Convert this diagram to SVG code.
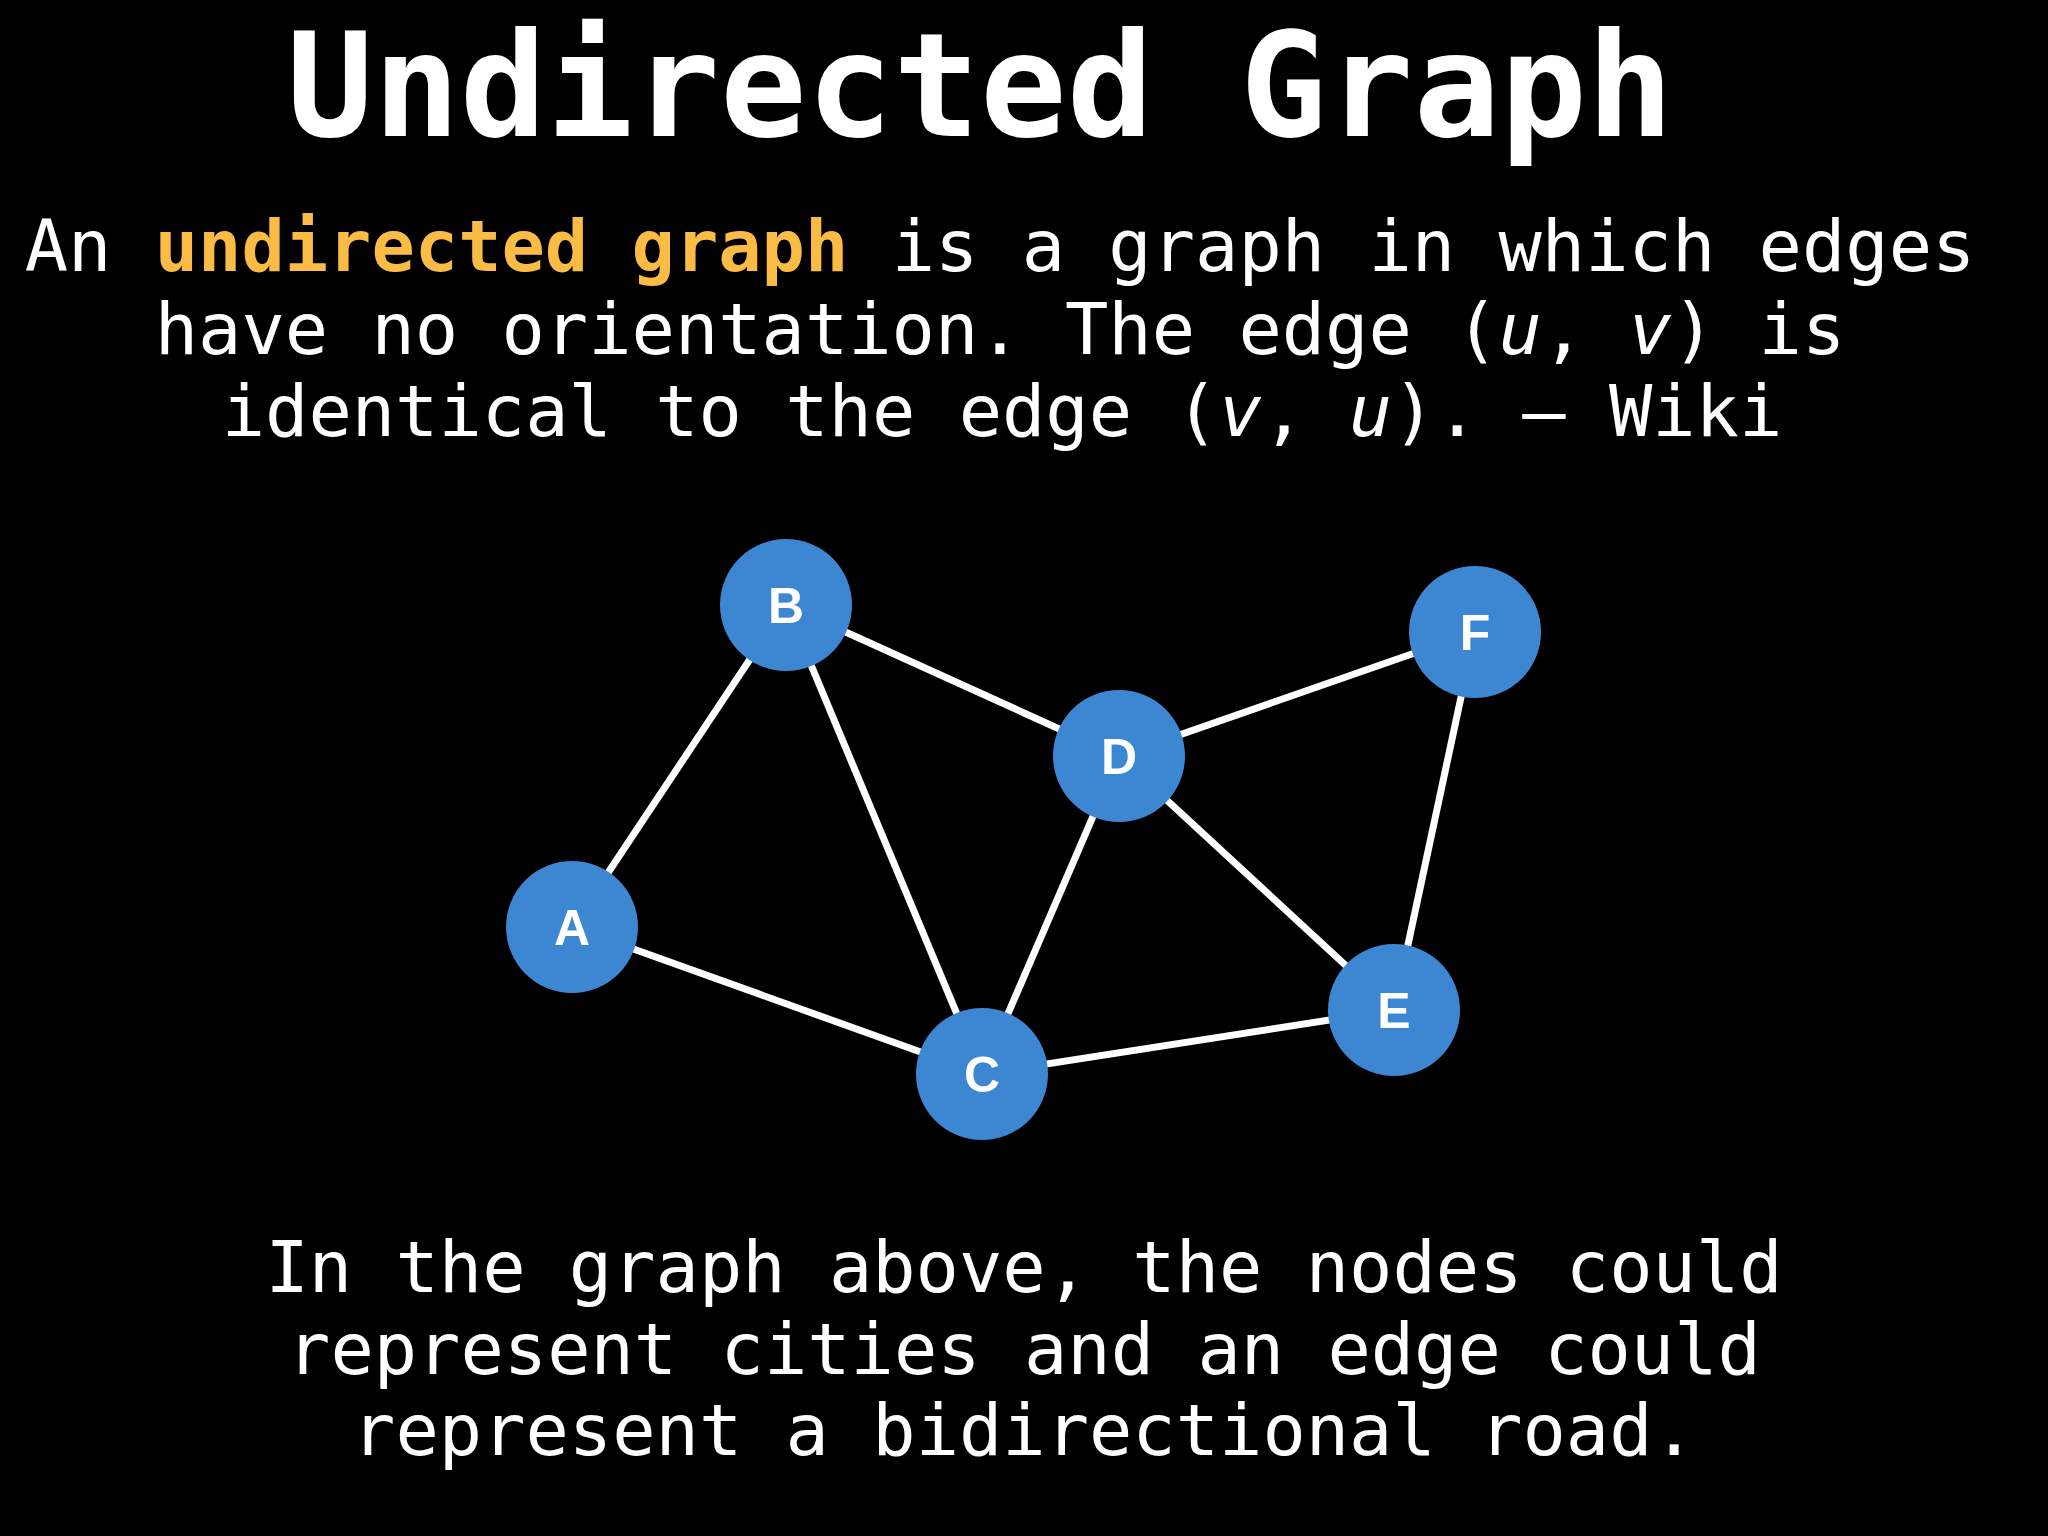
<svg xmlns="http://www.w3.org/2000/svg" width="2048" height="1536" viewBox="0 0 2048 1536">
<style>
.mono{font-family:"DejaVu Sans Mono","Liberation Mono",monospace;fill:#fff}
.title{font-size:144px;font-weight:bold}
.para{font-size:72px}
.hl{fill:#fbbc45;font-weight:bold}
.node circle{fill:#3c86d2}
.node text{font-family:"Liberation Sans",Arial,sans-serif;font-weight:bold;font-size:50px;fill:#fff;text-anchor:middle}
.edges line{stroke:#fff;stroke-width:7}
</style>
<rect width="2048" height="1536" fill="#000"/>
<text class="mono title" x="980" y="136" text-anchor="middle">Undirected Graph</text>
<g class="mono para" text-anchor="middle">
<text x="1000" y="271">An <tspan class="hl">undirected graph</tspan> is a graph in which edges</text>
<text x="1000" y="354">have no orientation. The edge (<tspan font-style="italic">u</tspan>, <tspan font-style="italic">v</tspan>) is</text>
<text x="1002" y="436">identical to the edge (<tspan font-style="italic">v</tspan>, <tspan font-style="italic">u</tspan>). – Wiki</text>
</g>
<g class="edges">
<line x1="572" y1="927" x2="786" y2="605"/>
<line x1="572" y1="927" x2="982" y2="1074"/>
<line x1="786" y1="605" x2="982" y2="1074"/>
<line x1="786" y1="605" x2="1119" y2="756"/>
<line x1="1119" y1="756" x2="1475" y2="632"/>
<line x1="1119" y1="756" x2="982" y2="1074"/>
<line x1="1119" y1="756" x2="1394" y2="1010"/>
<line x1="1475" y1="632" x2="1394" y2="1010"/>
<line x1="982" y1="1074" x2="1394" y2="1010"/>
</g>
<g id="node-A" class="node"><circle cx="572" cy="927" r="66"/><text x="572" y="945">A</text></g>
<g id="node-B" class="node"><circle cx="786" cy="605" r="66"/><text x="786" y="623">B</text></g>
<g id="node-C" class="node"><circle cx="982" cy="1074" r="66"/><text x="982" y="1092">C</text></g>
<g id="node-D" class="node"><circle cx="1119" cy="756" r="66"/><text x="1119" y="774">D</text></g>
<g id="node-E" class="node"><circle cx="1394" cy="1010" r="66"/><text x="1394" y="1028">E</text></g>
<g id="node-F" class="node"><circle cx="1475" cy="632" r="66"/><text x="1475" y="650">F</text></g>
<g class="mono para" text-anchor="middle">
<text x="1024" y="1292">In the graph above, the nodes could</text>
<text x="1024" y="1374">represent cities and an edge could</text>
<text x="1024" y="1455">represent a bidirectional road.</text>
</g>
</svg>
